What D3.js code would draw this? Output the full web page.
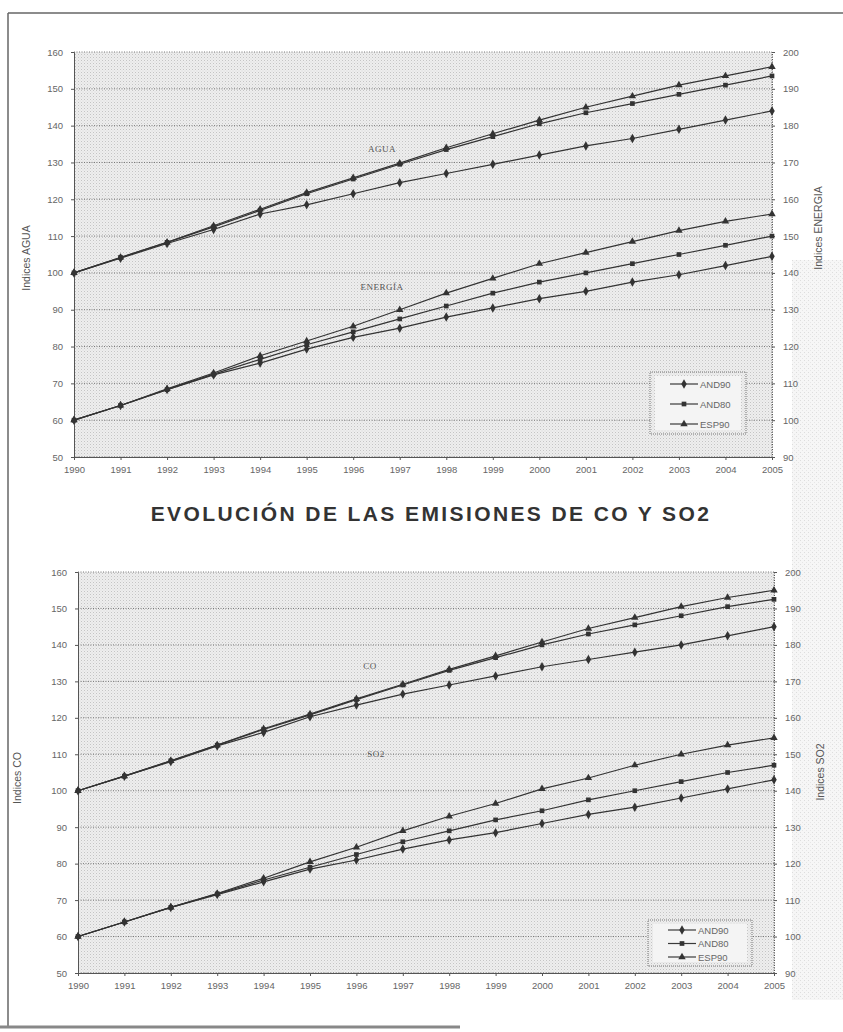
<!DOCTYPE html>
<html><head><meta charset="utf-8">
<script src="https://cdn.jsdelivr.net/npm/d3@7"></script>
<style>body{margin:0;background:#fff}svg{display:block}</style>
</head><body>
<script>
const years = [1990,1991,1992,1993,1994,1995,1996,1997,1998,1999,2000,2001,2002,2003,2004,2005];
const seriesNames = ["AND90","AND80","ESP90"];
const leftTicks = [50,60,70,80,90,100,110,120,130,140,150,160];
const rightTicks = [90,100,110,120,130,140,150,160,170,180,190,200];

// Chart 1: AGUA (left axis) & ENERGÍA (right axis)
const aguaAND90 = [100,104,108,111.8,116,118.5,121.5,124.5,127,129.5,132,134.5,136.5,139,141.5,144];
const aguaAND80 = [100,104.2,108.3,112.5,117,121.5,125.5,129.5,133.5,137,140.5,143.5,146,148.5,151,153.5];
const aguaESP90 = [100,104.2,108.3,112.8,117.3,121.8,125.8,129.8,134,137.8,141.5,145,148,151,153.5,156];
const energiaAND90 = [100,104,108.3,112.3,115.5,119.3,122.5,125,128,130.5,133,135,137.5,139.5,142,144.5];
const energiaAND80 = [100,104,108.3,112.5,116.5,120.5,124,127.5,131,134.5,137.5,140,142.5,145,147.5,150];
const energiaESP90 = [100,104,108.5,112.8,117.5,121.5,125.5,130,134.5,138.5,142.5,145.5,148.5,151.5,154,156];

// Chart 2: CO (left axis) & SO2 (right axis)
const coAND90 = [100,104,108,112.3,116,120.3,123.5,126.5,129,131.5,134,136,138,140,142.5,145];
const coAND80 = [100,104,108.2,112.5,116.8,120.8,125,129,133,136.5,140,143,145.5,148,150.5,152.5];
const coESP90 = [100,104,108.2,112.5,117,121,125.2,129.2,133.3,137,140.8,144.5,147.5,150.5,153,155];
const so2AND90 = [100,104,108,111.5,115,118.5,121,124,126.5,128.5,131,133.5,135.5,138,140.5,143];
const so2AND80 = [100,104,108,111.7,115.5,119,122.5,126,129,132,134.5,137.5,140,142.5,145,147];
const so2ESP90 = [100,104,108,111.8,116,120.5,124.5,129,133,136.5,140.5,143.5,147,150,152.5,154.5];

const W = 843, H = 1032;
const svg = d3.select("body").append("svg").attr("width", W).attr("height", H);
const defs = svg.append("defs");
const pat = defs.append("pattern").attr("id","dots").attr("width",3).attr("height",3).attr("patternUnits","userSpaceOnUse");
pat.append("rect").attr("width",3).attr("height",3).attr("fill","#eeeeee");
pat.append("rect").attr("width",1).attr("height",1).attr("fill","#c4c4c4");
pat.append("rect").attr("x",1.5).attr("y",1.5).attr("width",1).attr("height",1).attr("fill","#d8d8d8");
const pat2 = defs.append("pattern").attr("id","scan").attr("width",4).attr("height",4).attr("patternUnits","userSpaceOnUse");
pat2.append("rect").attr("width",4).attr("height",4).attr("fill","#f6f6f6");
pat2.append("rect").attr("width",1).attr("height",1).attr("fill","#dddddd");
pat2.append("rect").attr("x",2).attr("y",2).attr("width",1).attr("height",1).attr("fill","#e6e6e6");

// page scan look
svg.append("rect").attr("x",792).attr("y",260).attr("width",51).attr("height",740).attr("fill","url(#scan)");
svg.append("line").attr("x1",8).attr("x2",843).attr("y1",13).attr("y2",13).attr("stroke","#666").attr("stroke-width",1.5);
svg.append("line").attr("x1",8).attr("x2",8).attr("y1",13).attr("y2",1026).attr("stroke","#666").attr("stroke-width",1.5);
svg.append("line").attr("x1",0).attr("x2",460).attr("y1",1027).attr("y2",1027).attr("stroke","#888").attr("stroke-width",3);

const symbols = [d3.symbolDiamond, d3.symbolSquare, d3.symbolTriangle];
const symSizes = [26, 22, 24];

function drawChart(cfg){
  const x = d3.scalePoint().domain(years).range([cfg.x0, cfg.x1]);
  const yL = d3.scaleLinear().domain([50,160]).range([cfg.y1, cfg.y0]);
  const yR = d3.scaleLinear().domain([90,200]).range([cfg.y1, cfg.y0]);
  const g = svg.append("g");
  g.append("rect").attr("x",cfg.x0).attr("y",cfg.y0).attr("width",cfg.x1-cfg.x0).attr("height",cfg.y1-cfg.y0).attr("fill","url(#dots)");
  // gridlines
  g.selectAll(".grid").data(leftTicks).join("line")
    .attr("x1",cfg.x0).attr("x2",cfg.x1).attr("y1",d=>yL(d)).attr("y2",d=>yL(d))
    .attr("stroke","#6a6a6a").attr("stroke-width",0.9).attr("stroke-dasharray","1,1.5");
  g.append("line").attr("x1",cfg.x1).attr("x2",cfg.x1).attr("y1",cfg.y0).attr("y2",cfg.y1)
    .attr("stroke","#6a6a6a").attr("stroke-dasharray","1,1.5");
  // axes
  const ax = g.append("g").attr("transform",`translate(0,${cfg.y1})`)
    .call(d3.axisBottom(x).tickSize(3).tickPadding(6));
  const ay = g.append("g").attr("transform",`translate(${cfg.x0},0)`)
    .call(d3.axisLeft(yL).tickValues(leftTicks).tickSize(3).tickPadding(8));
  const ar = g.append("g").attr("transform",`translate(${cfg.x1},0)`)
    .call(d3.axisRight(yR).tickValues(rightTicks).tickSize(3).tickPadding(8));
  [ax,ay,ar].forEach(a=>{
    a.selectAll("path").attr("stroke","#555").attr("stroke-width",1);
    a.selectAll("line").attr("stroke","#555");
    a.selectAll("text").attr("fill","#666").attr("font-family","Liberation Sans, Arial, sans-serif").attr("font-size",9.5);
  });
  ar.select("path").attr("stroke-dasharray","1,1.5");
  // axis titles
  g.append("text").attr("transform",`translate(${cfg.lt[0]},${cfg.lt[1]}) rotate(-90)`)
    .attr("text-anchor","middle").attr("font-family","Liberation Sans, Arial, sans-serif").attr("font-size",10.5).attr("fill","#555").text(cfg.leftTitle);
  g.append("text").attr("transform",`translate(${cfg.rt[0]},${cfg.rt[1]}) rotate(-90)`)
    .attr("text-anchor","middle").attr("font-family","Liberation Sans, Arial, sans-serif").attr("font-size",10.5).attr("fill","#555").text(cfg.rightTitle);
  // series
  const sets = [
    {scale:yL, series:cfg.leftSeries},
    {scale:yR, series:cfg.rightSeries}
  ];
  sets.forEach(set=>{
    set.series.forEach((vals,i)=>{
      const line = d3.line().x((d,j)=>x(years[j])).y(d=>set.scale(d));
      g.append("path").attr("d",line(vals)).attr("fill","none").attr("stroke","#333").attr("stroke-width",1.2);
      g.selectAll(null).data(vals).join("path")
        .attr("transform",(d,j)=>`translate(${x(years[j])},${set.scale(d)})`)
        .attr("d",d3.symbol().type(symbols[i]).size(symSizes[i])).attr("fill","#333");
    });
  });
  // series labels
  cfg.notes.forEach(n=>{
    g.append("text").attr("x",n[1]).attr("y",n[2]).attr("text-anchor","middle")
      .attr("font-family","Liberation Serif, Times New Roman, serif").attr("font-size",9).attr("fill","#555")
      .attr("letter-spacing",0.5).text(n[0]);
  });
  // legend
  const L = cfg.legend;
  g.append("rect").attr("x",L.x).attr("y",L.y).attr("width",L.w).attr("height",L.h)
    .attr("fill","url(#dots)").attr("stroke","#777").attr("stroke-dasharray","1,1");
  g.append("rect").attr("x",L.x+5).attr("y",L.y+4).attr("width",L.w-10).attr("height",L.h-8).attr("fill","#f4f4f4");
  seriesNames.forEach((nm,i)=>{
    const yy = L.y + L.first + i*L.step;
    g.append("line").attr("x1",L.x+20).attr("x2",L.x+48).attr("y1",yy).attr("y2",yy).attr("stroke","#3a3a3a").attr("stroke-width",1.2);
    g.append("path").attr("transform",`translate(${L.x+34},${yy})`).attr("d",d3.symbol().type(symbols[i]).size(symSizes[i])).attr("fill","#333");
    g.append("text").attr("x",L.x+50).attr("y",yy+3.5).attr("font-family","Liberation Sans, Arial, sans-serif")
      .attr("font-size",9.5).attr("fill","#666").text(nm);
  });
}

drawChart({x0:74,x1:772,y0:52,y1:457,
  leftTitle:"Indices AGUA", rightTitle:"Indices ENERGIA", lt:[30,258], rt:[822,228],
  leftSeries:[aguaAND90,aguaAND80,aguaESP90], rightSeries:[energiaAND90,energiaAND80,energiaESP90],
  notes:[["AGUA",382,152],["ENERGÍA",382,290]],
  legend:{x:650,y:372,w:96,h:62,first:12,step:20}});

svg.append("text").attr("x",431).attr("y",521).attr("text-anchor","middle")
  .attr("font-family","Liberation Sans, Arial, sans-serif").attr("font-weight","bold").attr("font-size",21)
  .attr("letter-spacing",2.4).attr("fill","#333").text("EVOLUCIÓN DE LAS EMISIONES DE CO Y SO2");

drawChart({x0:78,x1:774,y0:572,y1:973,
  leftTitle:"Indices CO", rightTitle:"Indices SO2", lt:[21,778], rt:[824,772],
  leftSeries:[coAND90,coAND80,coESP90], rightSeries:[so2AND90,so2AND80,so2ESP90],
  notes:[["CO",370,669],["SO2",376,757]],
  legend:{x:648,y:920,w:104,h:46,first:10,step:13.5}});
</script>
</body></html>
